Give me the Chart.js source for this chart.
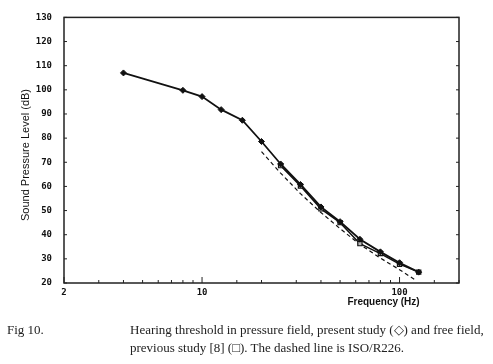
<!DOCTYPE html>
<html>
<head>
<meta charset="utf-8">
<script src="https://cdn.jsdelivr.net/npm/chart.js@4"></script>
<style>
body{margin:0;background:#fff;}
#caja{position:relative;width:493px;height:364px;overflow:hidden;}
#grafico{position:absolute;left:0;top:0;}
.pie{position:absolute;font-family:"Liberation Serif","Times New Roman",serif;font-size:13px;color:#222;white-space:nowrap;}
</style>
</head>
<body>
<div id="caja">
<canvas id="grafico" width="493" height="364"></canvas>
<div class="pie" style="left:7px;top:322px;">Fig 10.</div>
<div class="pie" style="left:130px;top:322px;">Hearing threshold in pressure field, present study (◇) and free field,</div>
<div class="pie" style="left:130px;top:340px;">previous study [8] (□). The dashed line is ISO/R226.</div>
</div>
<script>
// frecuencias (Hz) y niveles (dB)
const frecActual = [4, 8, 10, 12.5, 16, 20, 25, 31.5, 40, 50, 63, 80, 100, 125];
const nivelActual = [107, 99.8, 97.2, 91.8, 87.4, 78.6, 69.3, 60.8, 51.5, 45.4, 38.1, 32.9, 28.4, 24.5];

const frecPrevio = [25, 31.5, 40, 50, 63, 80, 100, 125];
const nivelPrevio = [68.6, 60.2, 50.7, 45, 36.3, 32.2, 27.8, 24.5];

const frecIso = [20, 25, 31.5, 40, 50, 63, 80, 100, 120];
const nivelIso = [74.4, 65.5, 57, 49.2, 42.5, 36, 30.3, 25.5, 21.3];

const etiquetasX = [2, 10, 100];

function puntos(xs, ys){
return xs.map((x, i) => ({x: x, y: ys[i]}));
}

// marco, marcas hacia adentro y titulos de ejes
const marcas = {
id: "marcas",
afterDraw(chart){
const ctx = chart.ctx;
const a = chart.chartArea;
const sx = chart.scales.x;
const sy = chart.scales.y;
ctx.save();
ctx.strokeStyle = "#222";
ctx.lineWidth = 1.5;
ctx.strokeRect(a.left, a.top, a.right - a.left, a.bottom - a.top);
ctx.lineWidth = 1;
sx.ticks.forEach(t => {
const px = sx.getPixelForValue(t.value);
const largo = etiquetasX.includes(t.value) ? 6 : 3;
ctx.beginPath();
ctx.moveTo(px, a.bottom);
ctx.lineTo(px, a.bottom - largo);
ctx.stroke();
});
sy.ticks.forEach(t => {
const py = sy.getPixelForValue(t.value);
ctx.beginPath();
ctx.moveTo(a.left, py);
ctx.lineTo(a.left + 3, py);
ctx.moveTo(a.right, py);
ctx.lineTo(a.right - 3, py);
ctx.stroke();
});
ctx.fillStyle = "#111";
ctx.font = "bold 10px 'Liberation Sans', Arial, sans-serif";
ctx.textAlign = "center";
ctx.textBaseline = "middle";
ctx.fillText("Frequency (Hz)", sx.getPixelForValue(100) - 16, 302);
ctx.font = "11px 'Liberation Sans', Arial, sans-serif";
ctx.translate(26, 155);
ctx.rotate(-Math.PI / 2);
ctx.fillText("Sound Pressure Level (dB)", 0, 0);
ctx.restore();
}
};

const config = {
type: "line",
data: {
datasets: [
{
label: "present study",
data: puntos(frecActual, nivelActual),
borderColor: "#111",
backgroundColor: "#111",
borderWidth: 1.8,
pointStyle: "rectRot",
pointRadius: 3,
pointBorderWidth: 1
},
{
label: "previous study",
data: puntos(frecPrevio, nivelPrevio),
borderColor: "#111",
backgroundColor: "#bbb",
borderWidth: 1.5,
pointStyle: "rect",
pointRadius: 3,
pointBorderWidth: 1.2
},
{
label: "ISO/R226",
data: puntos(frecIso, nivelIso),
borderColor: "#111",
borderWidth: 1.2,
borderDash: [4, 3],
pointRadius: 0
}
]
},
options: {
responsive: false,
animation: false,
layout: {padding: {top: 12, right: 34, bottom: 51, left: 0}},
plugins: {legend: {display: false}, tooltip: {enabled: false}},
scales: {
x: {
type: "logarithmic",
min: 2,
max: 200,
grid: {display: false, drawTicks: false},
border: {display: false},
afterFit: s => { s.height = 30; },
ticks: {
autoSkip: false,
maxRotation: 0,
padding: 4,
color: "#111",
font: {family: "'DejaVu Sans Mono', monospace", size: 9, weight: "bold"},
callback: v => etiquetasX.includes(v) ? String(v) : ""
}
},
y: {
min: 20,
max: 130,
grid: {display: false, drawTicks: false},
border: {display: false},
afterFit: s => { s.width = 64; },
ticks: {
stepSize: 10,
padding: 12,
color: "#111",
font: {family: "'DejaVu Sans Mono', monospace", size: 9, weight: "bold"}
}
}
}
},
plugins: [marcas]
};

const chart = new Chart(document.getElementById("grafico"), config);
</script>
</body>
</html>
